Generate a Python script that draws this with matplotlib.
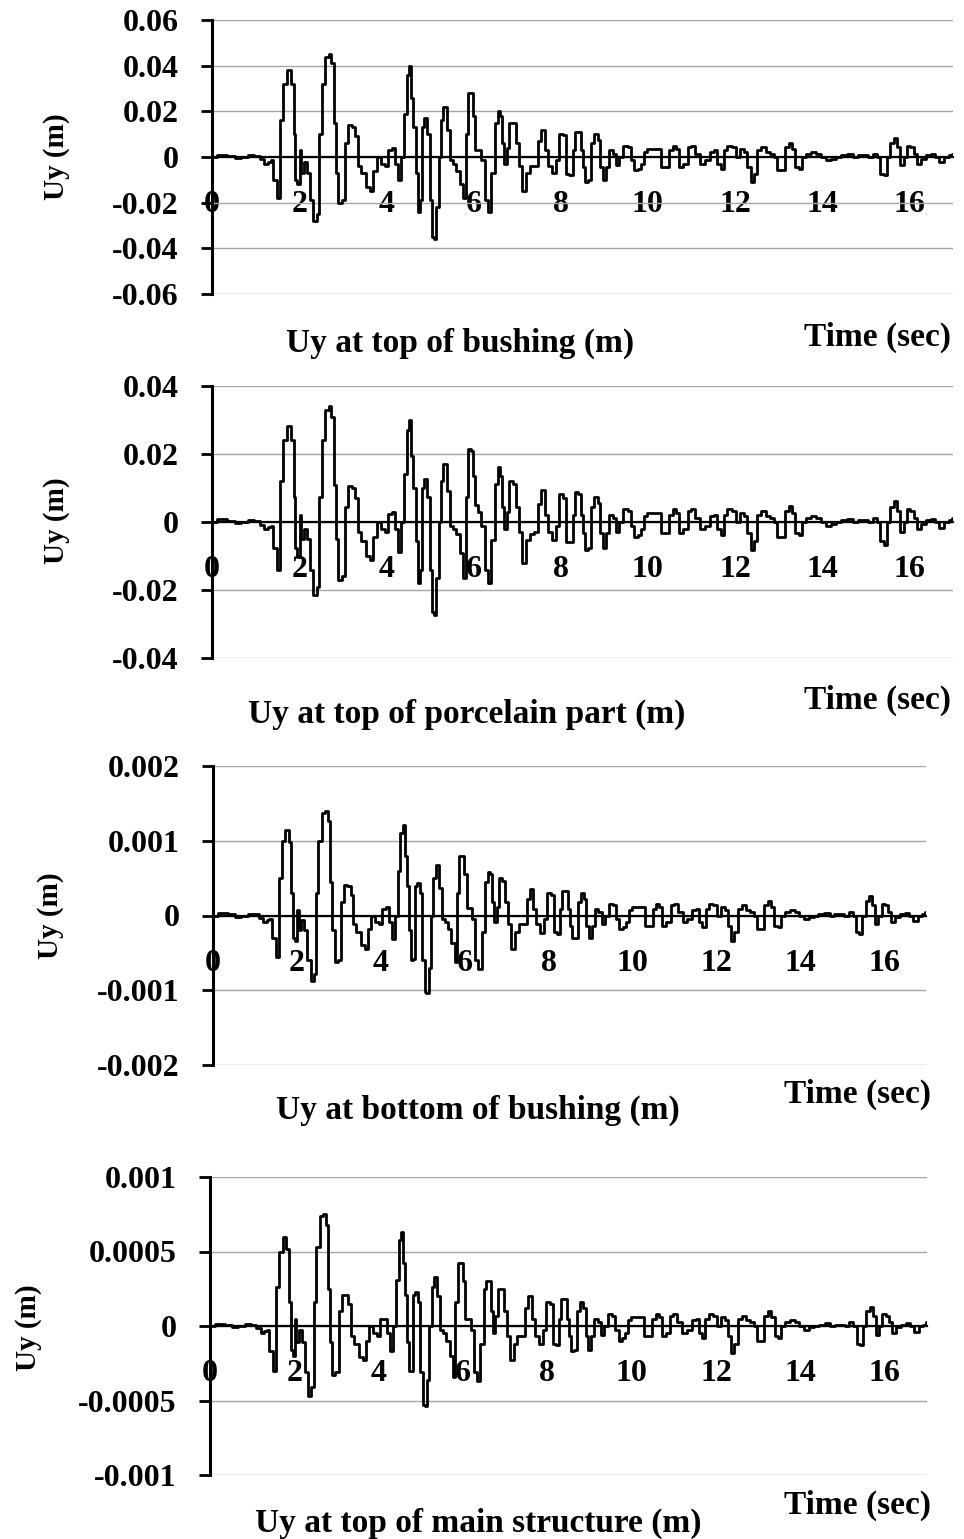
import numpy as np
import matplotlib
matplotlib.use("Agg")
import matplotlib.pyplot as plt
from matplotlib.ticker import FuncFormatter

plt.rcParams['font.family'] = ['Liberation Serif', 'DejaVu Serif']
plt.rcParams['font.weight'] = 'bold'
plt.rcParams['axes.unicode_minus'] = False

#################################################################################
# data (time in sec, displacement in mm)
#################################################################################
time_s = [
    0.00, 0.25, 0.45, 0.60, 0.75, 0.90, 1.05, 1.15, 1.25, 1.32,
    1.37, 1.45, 1.54, 1.60, 1.68, 1.77, 1.85, 1.89, 1.94, 1.98,
    2.04, 2.06, 2.14, 2.21, 2.29, 2.36, 2.44, 2.48, 2.55, 2.65,
    2.71, 2.77, 2.82, 2.86, 2.94, 3.01, 3.09, 3.17, 3.24, 3.32,
    3.36, 3.47, 3.58, 3.66, 3.74, 3.81, 3.93, 4.00, 4.08, 4.16,
    4.23, 4.31, 4.37, 4.44, 4.50, 4.56, 4.59, 4.65, 4.71, 4.74,
    4.79, 4.84, 4.90, 4.96, 5.02, 5.07, 5.11, 5.17, 5.23, 5.28,
    5.34, 5.42, 5.48, 5.57, 5.64, 5.72, 5.80, 5.84, 5.91, 5.96,
    6.03, 6.06, 6.14, 6.22, 6.29, 6.37, 6.45, 6.52, 6.58, 6.64,
    6.67, 6.73, 6.79, 6.86, 6.94, 7.00, 7.08, 7.15, 7.25, 7.32,
    7.44, 7.51, 7.59, 7.67, 7.74, 7.86, 7.93, 8.01, 8.09, 8.16,
    8.24, 8.31, 8.35, 8.43, 8.50, 8.54, 8.58, 8.66, 8.73, 8.81,
    8.89, 8.92, 9.00, 9.08, 9.15, 9.23, 9.31, 9.38, 9.50, 9.57,
    9.65, 9.73, 9.80, 9.88, 9.95, 10.03, 10.26, 10.33, 10.45, 10.53,
    10.60, 10.68, 10.75, 10.87, 10.95, 11.02, 11.14, 11.25, 11.37, 11.48,
    11.56, 11.63, 11.71, 11.78, 11.86, 11.98, 12.05, 12.17, 12.24, 12.32,
    12.39, 12.47, 12.55, 12.66, 12.74, 12.85, 12.93, 13.00, 13.08, 13.20,
    13.27, 13.35, 13.42, 13.50, 13.58, 13.69, 13.81, 13.92, 14.03, 14.15,
    14.26, 14.38, 14.49, 14.65, 14.76, 14.87, 14.99, 15.10, 15.22, 15.29,
    15.37, 15.45, 15.52, 15.60, 15.68, 15.75, 15.83, 15.90, 15.98, 16.06,
    16.13, 16.21, 16.32, 16.44, 16.55, 16.63, 16.74, 16.86, 16.97, 17.00,
]

uy_top_bushing = [
    0, 1.0, 0.5, -0.5, 0, 0.8, 0.5, -1.0, -3.0, -2.0,
    -1.5, -10, -18, 16, 32, 38, 32, 10, -10, -12,
    3, -7, -2, -7, -19, -28, -25, 10, 32, 44,
    45, 41, 15, -7, -20, -19, 6, 14, 13, 9,
    -4, -7, -13, -15, -6, 0, -3, -4, 3, 4,
    -3, -10, 0, 19, 36, 40, 26, 13, -7, -24,
    -19, 13, 17, 10, -19, -35, -36, -22, 0, 16,
    22, 12, -1.5, -3, -6, -12, -18, 10, 28, 28,
    18, 3, 3, -1.5, -19, -24, -7, 15, 20, 18,
    6, -3, 4, 15, 15, 6, -4, -15, -7, -4,
    -4, 7, 12, 3, -4, -7, -1.5, 10, 9.5, -7.3,
    -8, 3, 11, 11, 3, -4.4, -11, -10, 6, 10,
    7.3, -4.4, -10, -4.4, 3, 1.5, -3.7, 0, 5, 4.4,
    -1.5, -5.8, -5.1, -2.9, 2.2, 3.6, 3.6, -4.4, -4.4, 3,
    5, 3.6, -4.4, -2.9, 4.4, 5, 1.5, -2.9, -1.5, 2.2,
    3, -2.9, -5.1, 3, 5, 4.4, 0, 3.6, 2.2, -4.4,
    -11, -7.3, 3, 4.4, 2.2, 1.5, 0, -5.8, -5.8, 4.4,
    6.1, 3.6, -4.4, -5.1, 0, 1.5, 2.2, 1.5, 0, -1.5,
    -0.7, 0, 0.7, 1.2, 0, 0.7, 0.7, 0, 1.5, 0,
    -7.3, -8, 0, 6, 8.3, 4.4, -3.7, 0, 5, 4.4,
    1.5, -2.9, -0.7, 0.7, 1.2, 0, -2.2, 0, 0.7, 1.5,
]

uy_top_porcelain = [
    0, 0.8, 0.4, -0.4, 0, 0.6, 0.4, -0.8, -2.2, -1.5,
    -1.1, -7.5, -14.2, 12, 24, 28.3, 24, 7.5, -7.5, -10.2,
    2, -5, -2, -5, -14, -21.5, -19, 7.5, 24, 33,
    34, 31, 11, -5, -17, -16, 4.5, 10.7, 10, 7,
    -3, -5.5, -10, -11.2, -4.5, 0, -2.2, -3, 2.5, 3,
    -2.2, -8.8, 0, 14, 27, 30, 19.5, 10, -5.5, -18,
    -14, 10, 12.7, 7.5, -14, -26.5, -27.3, -16.5, 0, 12,
    17, 9, -1.1, -2.2, -3.4, -9, -16.6, 7.5, 21.5, 21,
    13.5, 4.9, 3, -1.1, -14, -18, -5.3, 11.3, 16.3, 13.5,
    4.5, -2, 3, 12.2, 11.3, 4.5, -3, -12.2, -5.3, -3.4,
    -3, 5.3, 9.5, 2.2, -3, -5.4, -1.1, 8.3, 7, -5.9,
    -6, 2.2, 8.8, 8.3, 2.2, -3.3, -8.3, -7.5, 4.5, 7.5,
    5.5, -3.3, -7.5, -3.3, 2.2, 1.1, -2.8, 0, 3.8, 3.3,
    -1.1, -4.4, -3.8, -2.2, 1.7, 2.7, 2.7, -3.3, -3.3, 2.2,
    3.8, 2.7, -3.3, -2.2, 3.3, 3.8, 1.1, -2.2, -1.1, 1.7,
    2.2, -2.2, -3.8, 2.2, 3.8, 3.3, 0, 2.7, 1.7, -3.3,
    -8.3, -5.5, 2.2, 3.3, 1.7, 1.1, 0, -4.4, -4.4, 3.3,
    4.6, 2.7, -3.3, -3.8, 0, 1.1, 1.7, 1.1, 0, -1.1,
    -0.5, 0, 0.5, 0.9, 0, 0.5, 0.5, 0, 1.1, 0,
    -5.5, -6.8, 0, 4.5, 6.3, 3.3, -2.8, 0, 3.8, 3.3,
    1.1, -2.2, -0.5, 0.5, 0.9, 0, -1.7, 0, 0.5, 1.1,
]

uy_bottom_bushing = [
    0, 0.03, 0.015, -0.015, 0, 0.025, 0.015, -0.03, -0.09, -0.06,
    -0.05, -0.3, -0.56, 0.5, 1.0, 1.15, 0.98, 0.3, -0.3, -0.34,
    0.08, -0.2, -0.06, -0.2, -0.6, -0.88, -0.78, 0.3, 1.0, 1.37,
    1.4, 1.27, 0.45, -0.2, -0.62, -0.6, 0.18, 0.41, 0.4, 0.28,
    -0.12, -0.22, -0.4, -0.45, -0.18, 0, -0.09, -0.12, 0.09, 0.11,
    -0.09, -0.32, 0, 0.6, 1.1, 1.21, 0.8, 0.4, -0.2, -0.6,
    -0.58, 0.4, 0.43, 0.3, -0.6, -1.02, -1.04, -0.7, 0, 0.5,
    0.67, 0.37, -0.05, -0.09, -0.18, -0.37, -0.62, 0.3, 0.8, 0.8,
    0.55, 0.1, 0.1, -0.05, -0.6, -0.71, -0.22, 0.45, 0.58, 0.55,
    0.18, -0.09, 0.12, 0.5, 0.46, 0.18, -0.12, -0.45, -0.22, -0.12,
    -0.12, 0.22, 0.36, 0.09, -0.12, -0.23, -0.05, 0.3, 0.28, -0.22,
    -0.25, 0.09, 0.33, 0.33, 0.09, -0.14, -0.3, -0.3, 0.18, 0.3,
    0.22, -0.14, -0.3, -0.14, 0.09, 0.05, -0.11, 0, 0.15, 0.14,
    -0.05, -0.18, -0.16, -0.09, 0.07, 0.11, 0.11, -0.14, -0.14, 0.09,
    0.15, 0.11, -0.14, -0.09, 0.14, 0.15, 0.05, -0.09, -0.05, 0.07,
    0.09, -0.09, -0.16, 0.09, 0.15, 0.14, 0, 0.11, 0.07, -0.14,
    -0.34, -0.22, 0.09, 0.14, 0.07, 0.05, 0, -0.18, -0.18, 0.14,
    0.19, 0.11, -0.14, -0.16, 0, 0.05, 0.07, 0.05, 0, -0.05,
    -0.02, 0, 0.02, 0.04, 0, 0.02, 0.02, 0, 0.05, 0,
    -0.22, -0.25, 0, 0.19, 0.26, 0.14, -0.11, 0, 0.15, 0.14,
    0.05, -0.09, -0.02, 0.02, 0.04, 0, -0.07, 0, 0.02, 0.05,
]

uy_top_main = [
    0, 0.015, 0.008, -0.008, 0, 0.013, 0.008, -0.016, -0.05, -0.033,
    -0.025, -0.17, -0.3, 0.26, 0.5, 0.6, 0.52, 0.16, -0.16, -0.2,
    0.05, -0.11, -0.03, -0.11, -0.31, -0.47, -0.41, 0.16, 0.53, 0.74,
    0.75, 0.68, 0.25, -0.11, -0.33, -0.31, 0.1, 0.21, 0.21, 0.15,
    -0.07, -0.12, -0.21, -0.23, -0.1, 0, -0.05, -0.07, 0.05, 0.05,
    -0.05, -0.17, 0, 0.31, 0.58, 0.63, 0.42, 0.21, -0.11, -0.3,
    -0.3, 0.21, 0.23, 0.16, -0.31, -0.53, -0.54, -0.36, 0, 0.26,
    0.33, 0.2, -0.025, -0.05, -0.1, -0.2, -0.34, 0.16, 0.42, 0.42,
    0.3, 0.05, 0.05, -0.025, -0.31, -0.37, -0.12, 0.25, 0.3, 0.3,
    0.1, -0.05, 0.07, 0.25, 0.25, 0.1, -0.07, -0.23, -0.12, -0.07,
    -0.07, 0.12, 0.2, 0.05, -0.07, -0.12, -0.025, 0.16, 0.15, -0.12,
    -0.13, 0.05, 0.18, 0.18, 0.05, -0.07, -0.17, -0.16, 0.1, 0.16,
    0.12, -0.07, -0.16, -0.07, 0.05, 0.025, -0.06, 0, 0.08, 0.07,
    -0.025, -0.1, -0.08, -0.05, 0.04, 0.06, 0.06, -0.07, -0.07, 0.05,
    0.08, 0.06, -0.07, -0.05, 0.07, 0.08, 0.025, -0.05, -0.025, 0.04,
    0.05, -0.05, -0.08, 0.05, 0.08, 0.07, 0, 0.06, 0.04, -0.07,
    -0.18, -0.12, 0.05, 0.07, 0.04, 0.025, 0, -0.1, -0.1, 0.07,
    0.1, 0.06, -0.07, -0.08, 0, 0.025, 0.04, 0.025, 0, -0.025,
    -0.01, 0, 0.01, 0.02, 0, 0.01, 0.01, 0, 0.025, 0,
    -0.12, -0.13, 0, 0.1, 0.13, 0.07, -0.06, 0, 0.08, 0.07,
    0.025, -0.05, -0.01, 0.01, 0.02, 0, -0.04, 0, 0.01, 0.025,
]

titles = ["Uy at top of bushing (m)", "Uy at top of porcelain part (m)",
          "Uy at bottom of bushing (m)", "Uy at top of main structure (m)"]
series = [uy_top_bushing, uy_top_porcelain, uy_bottom_bushing, uy_top_main]
y_ticks = [[0.06, 0.04, 0.02, 0, -0.02, -0.04, -0.06],
           [0.04, 0.02, 0, -0.02, -0.04],
           [0.002, 0.001, 0, -0.001, -0.002],
           [0.001, 0.0005, 0, -0.0005, -0.001]]
x_ticks = [0, 2, 4, 6, 8, 10, 12, 14, 16]

#################################################################################
# layout (pixel positions of the original figure)
#################################################################################
W, H = 964, 1539
# left, right, top, bottom of each plot area
boxes = [(212, 953, 20, 294), (212, 953, 386, 658),
         (213, 926, 766, 1065), (210, 927, 1177, 1475)]
ylab_pos = [(57, 157), (57, 521), (50, 916), (28, 1328)]
title_pos = [(460, 343), (467, 714), (478, 1110), (478, 1523)]
time_pos = [(877, 337), (877, 700), (857, 1094), (857, 1505)]

FS = 23

fig = plt.figure(figsize=(W / 100, H / 100), dpi=100)
t = np.array(time_s)

for i in range(4):
    l, r, top, bot = boxes[i]
    ax = fig.add_axes([l / W, 1 - bot / H, (r - l) / W, (bot - top) / H])
    y = np.array(series[i]) / 1000.0
    ax.plot(t, y, color='black', lw=2.0, drawstyle='steps-mid', zorder=3)

    yt = y_ticks[i]
    ax.set_ylim(min(yt), max(yt))
    ax.set_xlim(0, 17)
    ax.set_yticks(yt)
    ax.yaxis.set_major_formatter(FuncFormatter(lambda v, p: '%g' % v))
    ax.set_xticks(x_ticks)
    ax.set_xticklabels([str(v) for v in x_ticks])

    ax.grid(axis='y', color='#a6a6a6', lw=1.0, zorder=0)
    ax.grid(axis='x', visible=False)

    for s in ['top', 'right']:
        ax.spines[s].set_visible(False)
    ax.spines['left'].set_linewidth(2.2)
    ax.spines['bottom'].set_position(('data', 0))
    ax.spines['bottom'].set_linewidth(1.6)
    ax.spines['bottom'].set_zorder(4)

    ax.tick_params(axis='y', direction='out', length=8, width=2, pad=16,
                   labelsize=FS)
    ax.tick_params(axis='x', length=0, pad=24, labelsize=FS)
    for lab in ax.get_xticklabels() + ax.get_yticklabels():
        lab.set_fontweight('bold')

    xl, yl = ylab_pos[i]
    fig.text(xl / W, 1 - yl / H, "Uy (m)", rotation=90, ha='center',
             va='center', fontsize=21, fontweight='bold')
    xt, ytt = title_pos[i]
    fig.text(xt / W, 1 - ytt / H, titles[i], ha='center', va='center',
             fontsize=24, fontweight='bold')
    xs, ys = time_pos[i]
    fig.text(xs / W, 1 - ys / H, "Time (sec)", ha='center', va='center',
             fontsize=24, fontweight='bold')

fig.savefig("out.png", dpi=100)
